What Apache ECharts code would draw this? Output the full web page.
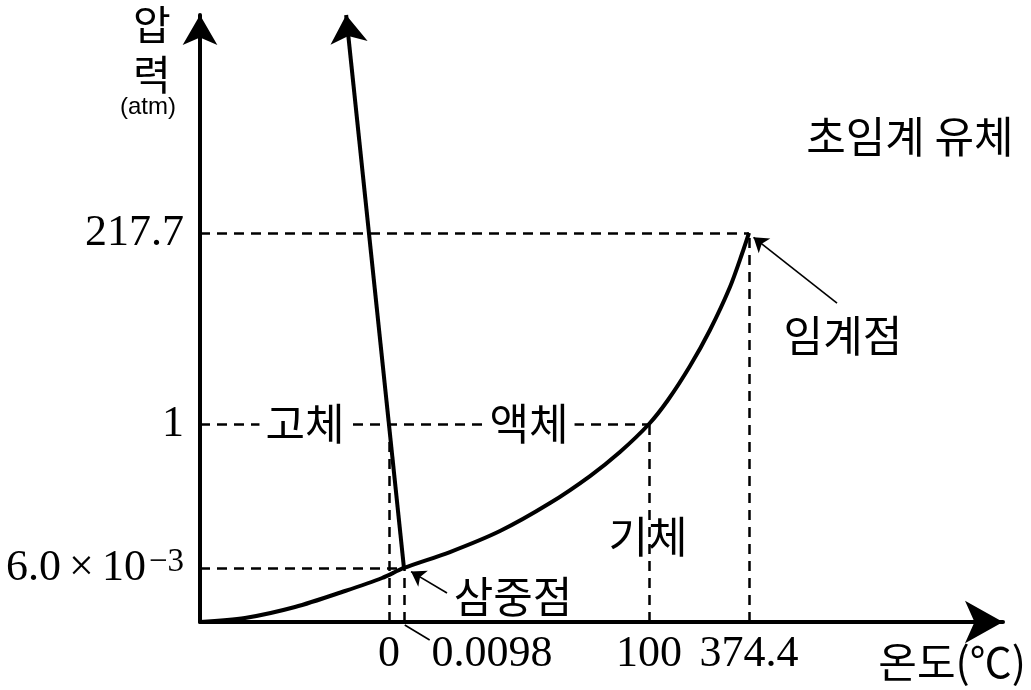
<!DOCTYPE html>
<html><head><meta charset="utf-8">
<script src="https://cdn.jsdelivr.net/npm/echarts@6/dist/echarts.min.js"></script>
<style>html,body{margin:0;padding:0;background:#fff}#c{width:1031px;height:690px}</style>
</head><body><div id="c"></div>
<script>
// Schematic phase diagram of water (axes are not to scale; values are schematic positions 0-100)
const xTickLabels = ['0', '0.0098', '100', '374.4'];
const xTickPos = [23.54, 25.40, 55.92, 68.37];
const yTickLabels = ['6.0×10^-3', '1', '217.7'];
const yTickPos = [8.90, 32.62, 64.09];

// vaporization / sublimation curve (schematic)
const curveX = [0, 5.60, 11.83, 18.06, 22.67, 25.40, 31.13, 37.36, 43.59, 48.57, 52.30, 55.92, 58.28, 61.02, 63.51, 66.00, 67.62, 68.37];
const curveY = [0, 0.66, 2.47, 5.11, 7.25, 8.90, 11.53, 14.99, 19.60, 24.05, 28.01, 32.62, 36.57, 42.17, 48.11, 55.19, 61.12, 64.09];

// melting curve (triple point -> up-left)
const meltX = [25.40, 18.2];
const meltY = [8.90, 100];

// region / point labels
const regionNames = ['고체', '액체', '기체', '초임계 유체', '임계점', '삼중점'];
const regionX = [13.08, 40.97, 55.80, 88.40, 80.07, 38.98];
const regionY = [32.62, 32.62, 14.00, 79.90, 47.10, 4.12];

// leader lines [fromX, fromY, toX, toY]
const tripleLeader = [30.76, 4.78, 26.28, 8.30];
const criticalLeader = [79.33, 52.55, 68.93, 63.38];
const tickLeader = [25.5, -0.5, 28.6, -2.97];

const serif = '"Liberation Serif", "DejaVu Serif", serif';
const kr = '"Noto Sans CJK KR", sans-serif';

const guides = [];
guides.push({coords: [[0, yTickPos[2]], [xTickPos[3], yTickPos[2]]]});
guides.push({coords: [[0, yTickPos[1]], [xTickPos[2], yTickPos[1]]]});
guides.push({coords: [[0, yTickPos[0]], [xTickPos[1], yTickPos[0]]]});
guides.push({coords: [[xTickPos[0], 0], [xTickPos[0], yTickPos[1]]]});
guides.push({coords: [[xTickPos[1], 0], [xTickPos[1], yTickPos[0]]]});
guides.push({coords: [[xTickPos[2], 0], [xTickPos[2], yTickPos[1]]]});
guides.push({coords: [[xTickPos[3], 0], [xTickPos[3], yTickPos[2]]]});

const regionData = regionNames.map((n, i) => {
  const d = {name: n, value: [regionX[i], regionY[i]]};
  if (i < 2) d.label = {backgroundColor: '#fff', padding: [0, 6]};
  return d;
});

const xLabelData = xTickLabels.map((t, i) => {
  const d = {name: t, value: [xTickPos[i], 0]};
  if (i === 1) d.label = {offset: [88, 0]};
  return d;
});

const chart = echarts.init(document.getElementById('c'));
chart.setOption({
  animation: false,
  backgroundColor: '#fff',
  grid: {left: 200, right: 28, top: 15, bottom: 68},
  xAxis: {
    type: 'value', min: 0, max: 100,
    axisLine: {show: true, symbol: ['none', 'arrow'], symbolSize: [32, 38], lineStyle: {color: '#000', width: 4}},
    axisTick: {show: false},
    splitLine: {show: false},
    axisLabel: {show: false}
  },
  yAxis: {
    type: 'value', min: 0, max: 100,
    axisLine: {show: true, symbol: ['none', 'arrow'], symbolSize: [26, 30], lineStyle: {color: '#000', width: 4}},
    axisTick: {show: false},
    splitLine: {show: false},
    axisLabel: {
      customValues: yTickPos,
      hideOverlap: false,
      margin: 16,
      color: '#000',
      fontFamily: serif,
      fontSize: 44,
      formatter: function (v) {
        const i = yTickPos.indexOf(v);
        const t = i >= 0 ? yTickLabels[i] : '';
        if (t.indexOf('^') >= 0) {
          const p = t.split('^');
          const q = p[0].split('×');
          return '{m|' + q[0] + '}{x|×}{m|' + q[1] + '}{s|' + p[1].replace('-', '−') + '}';
        }
        return t;
      },
      rich: {
        m: {fontFamily: serif, fontSize: 44, lineHeight: 44, color: '#000'},
        x: {fontFamily: serif, fontSize: 44, lineHeight: 44, color: '#000', padding: [0, 8]},
        s: {fontFamily: serif, fontSize: 33, lineHeight: 44, color: '#000', verticalAlign: 'top', padding: [0, 0, 22, 3]}
      }
    }
  },
  graphic: [
    {type: 'text', left: 133, top: 4, style: {text: '압', font: '41px ' + kr, fill: '#000'}},
    {type: 'text', left: 133, top: 54, style: {text: '력', font: '41px ' + kr, fill: '#000'}},
    {type: 'text', left: 120, top: 95, style: {text: '(atm)', font: '24px "Liberation Sans", Arial, sans-serif', fill: '#000'}},
    {type: 'text', right: 5, top: 641, style: {text: '온도(℃)', font: '42px ' + kr, fill: '#000'}}
  ],
  series: [
    {
      type: 'lines', coordinateSystem: 'cartesian2d', z: 1, clip: false,
      symbol: 'none',
      lineStyle: {color: '#000', width: 2.5, type: [10, 7], opacity: 1},
      data: guides
    },
    {
      type: 'line', z: 3, smooth: 0.3, symbol: 'none', clip: false,
      lineStyle: {color: '#000', width: 4},
      data: curveX.map((x, i) => [x, curveY[i]])
    },
    {
      type: 'lines', coordinateSystem: 'cartesian2d', z: 3, clip: false,
      symbol: ['none', 'arrow'], symbolSize: [0, 28],
      lineStyle: {color: '#000', width: 4, opacity: 1},
      itemStyle: {color: '#000'},
      data: [{coords: [[meltX[0], meltY[0]], [meltX[1], meltY[1]]]}]
    },
    {
      type: 'lines', coordinateSystem: 'cartesian2d', z: 4, clip: false,
      symbol: ['none', 'arrow'], symbolSize: [0, 14],
      lineStyle: {color: '#000', width: 1.6, opacity: 1},
      data: [
        {coords: [[tripleLeader[0], tripleLeader[1]], [tripleLeader[2], tripleLeader[3]]]},
        {coords: [[criticalLeader[0], criticalLeader[1]], [criticalLeader[2], criticalLeader[3]]]}
      ]
    },
    {
      type: 'lines', coordinateSystem: 'cartesian2d', z: 4, clip: false,
      symbol: 'none',
      lineStyle: {color: '#000', width: 1.6, opacity: 1},
      data: [{coords: [[tickLeader[0], tickLeader[1]], [tickLeader[2], tickLeader[3]]]}]
    },
    {
      type: 'scatter', z: 5, symbolSize: 0, clip: false, silent: true,
      itemStyle: {opacity: 1},
      label: {show: true, position: 'inside', formatter: '{b}', color: '#000', opacity: 1, fontFamily: kr, fontSize: 43},
      data: regionData
    },
    {
      type: 'scatter', z: 5, symbolSize: 0, clip: false, silent: true,
      itemStyle: {opacity: 1},
      label: {show: true, position: 'bottom', distance: 10, formatter: '{b}', color: '#000', opacity: 1, fontFamily: serif, fontSize: 44, lineHeight: 44},
      data: xLabelData
    }
  ]
});
</script></body></html>
